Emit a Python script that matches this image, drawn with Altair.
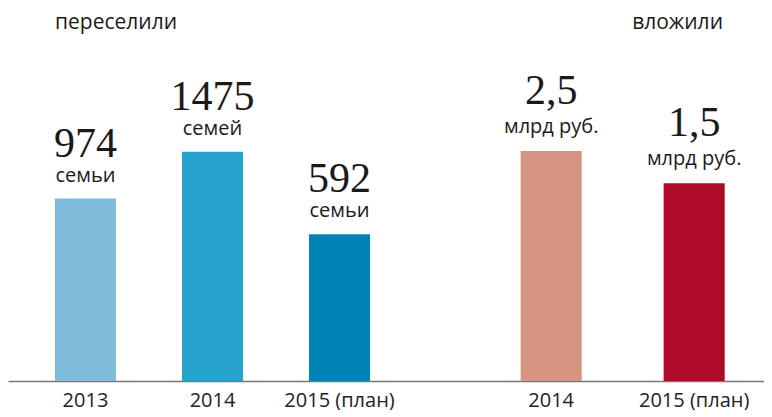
import altair as alt
import pandas as pd

left_years = ["2013", "2014", "2015 (план)"]
left_values = [974, 1475, 592]
left_numbers = ["974", "1475", "592"]
left_units = ["семьи", "семей", "семьи"]
left_colors = ["#7FBBDA", "#26A3CD", "#0084B5"]

right_years = ["2014", "2015 (план)"]
right_values = [2.5, 1.5]
right_numbers = ["2,5", "1,5"]
right_units = ["млрд руб.", "млрд руб."]
right_colors = ["#D69483", "#AE0B28"]

H = 340
SANS = "Open Sans"
SERIF = "Liberation Serif"

left_df = pd.DataFrame({"year": left_years, "value": left_values,
                        "num": left_numbers, "unit": left_units})
right_df = pd.DataFrame({"year": right_years, "value": right_values,
                         "num": right_numbers, "unit": right_units})


def panel(df, colors, dmin, slope, width, pad_inner, pad_outer, align,
          title, anchor, dx, num_dy, unit_dy):
    dmax = dmin + H / slope
    ysc = alt.Scale(domain=[dmin, dmax], zero=False, nice=False)
    x = alt.X("year:N", sort=list(df["year"]), title=None,
              scale=alt.Scale(paddingInner=pad_inner, paddingOuter=pad_outer, align=align),
              axis=alt.Axis(labelAngle=0, ticks=False, domainColor="#777777",
                            domainWidth=1.5, labelFont=SANS, labelFontSize=20,
                            labelColor="#222222", labelPadding=9))
    base = alt.Chart(df).encode(x=x)
    bars = base.mark_bar().encode(
        y=alt.Y("value:Q", scale=ysc, axis=None),
        y2=alt.datum(dmin),
        color=alt.Color("year:N", scale=alt.Scale(domain=list(df["year"]), range=colors),
                        legend=None),
    )
    nums = base.mark_text(font=SERIF, fontSize=42, baseline="alphabetic",
                          dy=num_dy, color="#1a1a1a").encode(
        y=alt.Y("value:Q", scale=ysc, axis=None), text="num:N")
    units = base.mark_text(font=SANS, fontSize=20, baseline="middle",
                           dy=unit_dy, color="#1a1a1a").encode(
        y=alt.Y("value:Q", scale=ysc, axis=None), text="unit:N")
    return alt.layer(bars, nums, units).properties(
        width=width, height=H,
        title=alt.TitleParams(title, anchor=anchor, dx=dx, fontSize=21,
                              fontWeight="normal", font=SANS, color="#1a1a1a",
                              offset=8),
    )


left = panel(left_df, left_colors, -976, 0.09354, 409, 0.52, 0.37, 0.5,
             "переселили", "start", 47, -42, -23)
right = panel(right_df, right_colors, -4.62, 32.3, 347, 0.573, 0.5, 0.725,
              "вложили", "end", -41, -47, -24)

chart = alt.hconcat(left, right, spacing=0).resolve_scale(
    color="independent", y="independent"
).configure_view(stroke=None).properties(
    padding={"top": 4, "left": 0, "right": 0, "bottom": 0})

chart.save("out.html", embed_options={"renderer": "svg", "actions": False})
